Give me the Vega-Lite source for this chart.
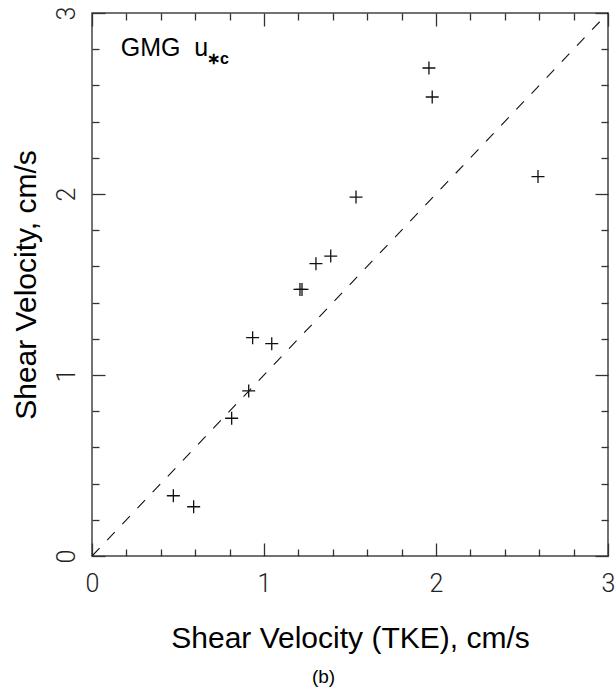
{
  "$schema": "https://vega.github.io/schema/vega-lite/v6.json",
  "width": 516,
  "height": 543,
  "autosize": {"type": "none"},
  "padding": {"left": 92, "top": 13, "right": 8, "bottom": 133},
  "background": "white",
  "view": {"stroke": "#444", "strokeWidth": 1.5, "fill": null},
  "config": {
    "axis": {"grid": false, "domain": false, "tickColor": "#333", "tickWidth": 1.3, "labelColor": "#222", "titleColor": "#000"}
  },
  "resolve": {"axis": {"x": "independent", "y": "independent"}},
  "layer": [
    {
      "data": {"values": [
        {"tke": 1.959, "gmg": 2.696},
        {"tke": 1.978, "gmg": 2.536},
        {"tke": 2.593, "gmg": 2.096},
        {"tke": 1.535, "gmg": 1.983},
        {"tke": 1.388, "gmg": 1.657},
        {"tke": 1.302, "gmg": 1.615},
        {"tke": 1.209, "gmg": 1.473},
        {"tke": 1.221, "gmg": 1.473},
        {"tke": 0.934, "gmg": 1.206},
        {"tke": 1.045, "gmg": 1.173},
        {"tke": 0.911, "gmg": 0.912},
        {"tke": 0.812, "gmg": 0.761},
        {"tke": 0.473, "gmg": 0.333},
        {"tke": 0.591, "gmg": 0.272}
      ]},
      "mark": {"type": "point", "shape": "M-1,0L1,0M0,-1L0,1", "filled": false, "stroke": "#111", "strokeWidth": 1.3, "size": 169, "opacity": 1},
      "encoding": {
        "x": {"field": "tke", "type": "quantitative", "scale": {"domain": [0, 3], "nice": false, "zero": false},
          "axis": {"orient": "bottom", "values": [0, 1, 2, 3], "ticks": false, "labelFont": "Roboto", "labelFontWeight": 300, "labelFontSize": 25, "labelPadding": 35, "labelBaseline": "alphabetic", "labelFlush": false, "labelAlign": "center",
            "title": "Shear Velocity (TKE), cm/s", "titleFont": "Liberation Sans", "titleFontSize": 30, "titleFontWeight": "normal", "titleX": 258, "titleY": 91, "titleBaseline": "alphabetic", "titleAlign": "center", "titleAnchor": null}},
        "y": {"field": "gmg", "type": "quantitative", "scale": {"domain": [0, 3], "nice": false, "zero": false},
          "axis": {"orient": "left", "values": [0, 1, 2, 3], "ticks": false, "labelFont": "Roboto", "labelFontWeight": 300, "labelFontSize": 25, "labelPadding": 18, "labelAngle": -90, "labelAlign": "center", "labelBaseline": "alphabetic", "labelFlush": false,
            "title": "Shear Velocity, cm/s", "titleFont": "Liberation Sans", "titleFontSize": 30, "titleFontWeight": "normal", "titleAngle": -90, "titleX": -57, "titleY": 271.5, "titleBaseline": "alphabetic", "titleAlign": "center", "titleAnchor": null}}
      }
    },
    {
      "data": {"values": [{"tke": 0, "gmg": 0}, {"tke": 3, "gmg": 3}]},
      "mark": {"type": "line", "color": "#111", "strokeWidth": 1.1, "strokeDash": [11, 11]},
      "encoding": {
        "x": {"field": "tke", "type": "quantitative", "scale": {"domain": [0, 3], "nice": false, "zero": false},
          "axis": {"orient": "bottom", "values": [0, 1, 2, 3], "labels": false, "tickSize": -13, "title": null}},
        "y": {"field": "gmg", "type": "quantitative", "scale": {"domain": [0, 3], "nice": false, "zero": false},
          "axis": {"orient": "left", "values": [0, 1, 2, 3], "labels": false, "tickSize": -13, "title": null}}
      }
    },
    {
      "data": {"values": [{"tke": 0.167, "gmg": 2.762, "label": "GMG\u00a0\u00a0u"}]},
      "mark": {"type": "text", "font": "Liberation Sans", "fontSize": 25, "align": "left", "baseline": "alphabetic", "color": "#000"},
      "encoding": {
        "x": {"field": "tke", "type": "quantitative", "scale": {"domain": [0, 3], "nice": false, "zero": false},
          "axis": {"orient": "bottom", "values": [0.2, 0.4, 0.6, 0.8, 1.2, 1.4, 1.6, 1.8, 2.2, 2.4, 2.6, 2.8], "labels": false, "tickSize": -7, "title": null}},
        "y": {"field": "gmg", "type": "quantitative", "scale": {"domain": [0, 3], "nice": false, "zero": false},
          "axis": {"orient": "left", "values": [0.2, 0.4, 0.6, 0.8, 1.2, 1.4, 1.6, 1.8, 2.2, 2.4, 2.6, 2.8], "labels": false, "tickSize": -7, "title": null}},
        "text": {"field": "label"}
      }
    },
    {
      "data": {"values": [{"tke": 0.669, "gmg": 2.718, "label": "∗c"}]},
      "mark": {"type": "text", "font": "Liberation Sans", "fontSize": 16, "fontWeight": "bold", "align": "left", "baseline": "alphabetic", "color": "#000"},
      "encoding": {
        "x": {"field": "tke", "type": "quantitative", "scale": {"domain": [0, 3], "nice": false, "zero": false},
          "axis": {"orient": "top", "values": [0, 1, 2, 3], "labels": false, "tickSize": -13, "title": null}},
        "y": {"field": "gmg", "type": "quantitative", "scale": {"domain": [0, 3], "nice": false, "zero": false},
          "axis": {"orient": "right", "values": [0, 1, 2, 3], "labels": false, "tickSize": -13, "title": null}},
        "text": {"field": "label"}
      }
    },
    {
      "data": {"values": [{"tke": 1.346, "gmg": -0.702, "label": "(b)"}]},
      "mark": {"type": "text", "font": "Liberation Sans", "fontSize": 19, "align": "center", "baseline": "alphabetic", "color": "#000"},
      "encoding": {
        "x": {"field": "tke", "type": "quantitative", "scale": {"domain": [0, 3], "nice": false, "zero": false},
          "axis": {"orient": "top", "values": [0.2, 0.4, 0.6, 0.8, 1.2, 1.4, 1.6, 1.8, 2.2, 2.4, 2.6, 2.8], "labels": false, "tickSize": -7, "title": null}},
        "y": {"field": "gmg", "type": "quantitative", "scale": {"domain": [0, 3], "nice": false, "zero": false},
          "axis": {"orient": "right", "values": [0.2, 0.4, 0.6, 0.8, 1.2, 1.4, 1.6, 1.8, 2.2, 2.4, 2.6, 2.8], "labels": false, "tickSize": -7, "title": null}},
        "text": {"field": "label"}
      }
    }
  ]
}
